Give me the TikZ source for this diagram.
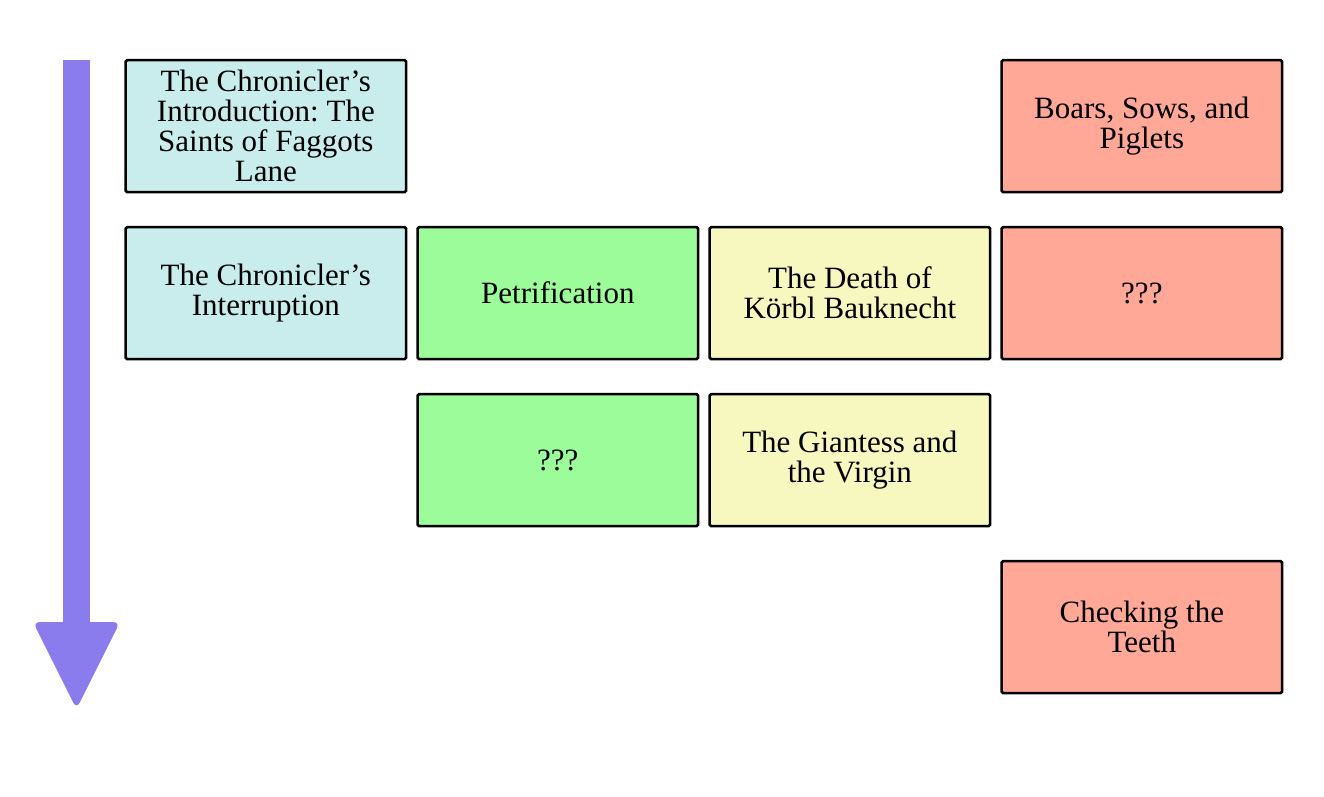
\documentclass[tikz,border=0pt]{standalone}
\usepackage{fontspec}
\setmainfont{Liberation Serif}
\frenchspacing
\definecolor{cyanbox}{HTML}{C9EDED}
\definecolor{greenbox}{HTML}{9DFC9A}
\definecolor{yellowbox}{HTML}{F7F7C0}
\definecolor{redbox}{HTML}{FFA898}
\definecolor{arrowcol}{HTML}{8B7CEE}
\begin{document}
\begin{tikzpicture}[x=1pt,y=-1pt,
  card/.style={draw=black, line width=2.6pt, rounded corners=1.5pt,
    minimum width=280.5pt, minimum height=132pt, align=center,
    font=\fontsize{31}{30}\selectfont, inner sep=2pt, anchor=north west},
  cyancard/.style={card, fill=cyanbox},
  greencard/.style={card, fill=greenbox},
  yellowcard/.style={card, fill=yellowbox},
  redcard/.style={card, fill=redbox}]
\useasboundingbox (0,0) rectangle (1324,796);
% timeline arrow
\fill[arrowcol] (63,60) -- (90,60) -- (90,626) -- (63,626) -- cycle;
\fill[arrowcol, rounded corners=7pt] (33,622) -- (120,622) -- (76.5,709) -- cycle;
% row 1
\node[cyancard] (intro) at (124.3,58.8) {The Chronicler’s\\Introduction: The\\Saints of Faggots\\Lane};
\node[redcard] (boars) at (1000.3,58.8) {Boars, Sows, and\\Piglets};
% row 2
\node[cyancard] (interr) at (124.3,225.8) {The Chronicler’s\\Interruption};
\node[greencard] (petri) at (416.3,225.8) {Petrification};
\node[yellowcard] (death) at (708.3,225.8) {The Death of\\Körbl Bauknecht};
\node[redcard] (q1) at (1000.3,225.8) {???};
% row 3
\node[greencard] (q2) at (416.3,392.8) {???};
\node[yellowcard] (giant) at (708.3,392.8) {The Giantess and\\the Virgin};
% row 4
\node[redcard] (teeth) at (1000.3,559.8) {Checking the\\Teeth};
\end{tikzpicture}
\end{document}
